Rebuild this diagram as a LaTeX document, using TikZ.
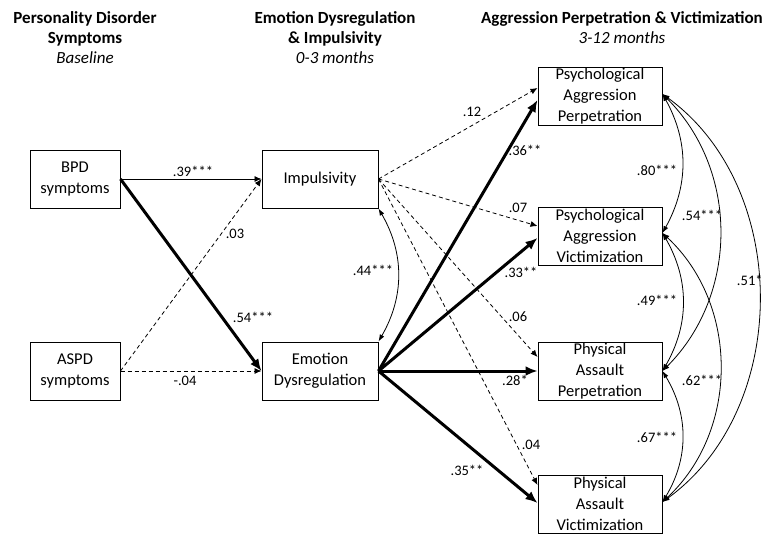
\documentclass[tikz,border=0pt]{standalone}
\usepackage{fontspec}
\setmainfont{Carlito}
\usetikzlibrary{arrows.meta}
\begin{document}
\begin{tikzpicture}[x=1pt,y=-1pt,
  box/.style={draw,line width=1pt,minimum width=#1,minimum height=58pt,inner sep=0pt,align=center,
    font=\fontsize{16.5}{21}\selectfont},
  hdr/.style={align=center,inner sep=0pt,font=\fontsize{17}{20}\selectfont},
  lab/.style={inner sep=0pt,font=\fontsize{14.5}{17}\selectfont},
  thinarr/.style={line width=0.8pt,-{Latex[length=7pt,width=6pt]}},
  dasharr/.style={thinarr,dash pattern=on 4pt off 3pt},
  thickarr/.style={line width=3pt,-{Latex[length=12pt,width=10pt]}},
  bidir/.style={line width=0.8pt,{Latex[length=7pt,width=5pt]}-{Latex[length=7pt,width=5pt]}}]
\useasboundingbox (0,0) rectangle (763,533);

% headers
\node[hdr] (h1) at (85,38) {\textbf{Personality Disorder}\\\textbf{Symptoms}\\\textit{Baseline}};
\node[hdr] (h2) at (335,38) {\textbf{Emotion Dysregulation}\\\textbf{\& Impulsivity}\\\textit{0-3 months}};
\node[hdr] (h3) at (622,28) {\textbf{Aggression Perpetration \& Victimization}\\\textit{3-12 months}};

% boxes
\node[box=90pt] (bpd) at (75,179) {BPD\\symptoms};
\node[box=90pt] (aspd) at (75,371) {ASPD\\symptoms};
\node[box=116pt] (imp) at (320,179) {Impulsivity};
\node[box=116pt] (ed) at (320,371) {Emotion\\Dysregulation};
\node[box=124pt] (pap) at (600,96) {Psychological\\Aggression\\Perpetration};
\node[box=124pt] (pav) at (600,236) {Psychological\\Aggression\\Victimization};
\node[box=124pt] (phap) at (600,371) {Physical\\Assault\\Perpetration};
\node[box=124pt] (phav) at (600,504) {Physical\\Assault\\Victimization};

% left paths
\draw[thinarr] (bpd.east) -- (imp.west);
\draw[thickarr] (bpd.east) -- (ed.west);
\draw[dasharr] (aspd.east) -- (imp.west);
\draw[dasharr] (aspd.east) -- (ed.west);

% impulsivity dashed paths
\draw[dasharr] (imp.east) -- ([yshift=8pt]pap.west);
\draw[dasharr] (imp.east) -- ([yshift=10pt]pav.west);
\draw[dasharr] (imp.east) -- ([yshift=14pt]phap.west);
\draw[dasharr] (imp.east) -- ([yshift=19pt]phav.west);

% emotion dysregulation thick paths
\draw[thickarr] (ed.east) -- ([yshift=-4pt]pap.west);
\draw[thickarr] (ed.east) -- ([yshift=-2pt]pav.west);
\draw[thickarr] (ed.east) -- (phap.west);
\draw[thickarr] (ed.east) -- ([yshift=1pt]phav.west);

% covariance
\draw[bidir] (imp.south east) to[bend left=30] (ed.north east);

\draw[bidir] ([yshift=2pt]pap.east) to[bend left=29] ([yshift=3pt]pav.east);
\draw[bidir] ([yshift=2pt]pap.east) to[bend left=45] (phap.east);
\draw[bidir] ([yshift=2pt]pap.east) to[bend left=54] ([yshift=2pt]phav.east);
\draw[bidir] ([yshift=3pt]pav.east) to[bend left=30] (phap.east);
\draw[bidir] ([yshift=3pt]pav.east) to[bend left=47] ([yshift=2pt]phav.east);
\draw[bidir] (phap.east) to[bend left=31] ([yshift=2pt]phav.east);

% labels
\node[lab] (l39) at (193,171) {.39***};
\node[lab] (l03) at (235,234) {.03};
\node[lab] (l54a) at (253,317) {.54***};
\node[lab] (l04a) at (185,381) {-.04};
\node[lab] (l44) at (373,270) {.44***};
\node[lab] (l12) at (472,112) {.12};
\node[lab] (l36) at (525,150) {.36**};
\node[lab] (l07) at (518,208) {.07};
\node[lab] (l33) at (521,272) {.33**};
\node[lab] (l06) at (518,317) {.06};
\node[lab] (l28) at (515,380) {.28*};
\node[lab] (l04b) at (531,445) {.04};
\node[lab] (l35) at (467,470) {.35**};
\node[lab] (l80) at (657,170) {.80***};
\node[lab] (l54b) at (702,215) {.54***};
\node[lab] (l51) at (757,280) {.51***};
\node[lab] (l49) at (657,300) {.49***};
\node[lab] (l62) at (702,380) {.62***};
\node[lab] (l67) at (657,437) {.67***};
\end{tikzpicture}
\end{document}
